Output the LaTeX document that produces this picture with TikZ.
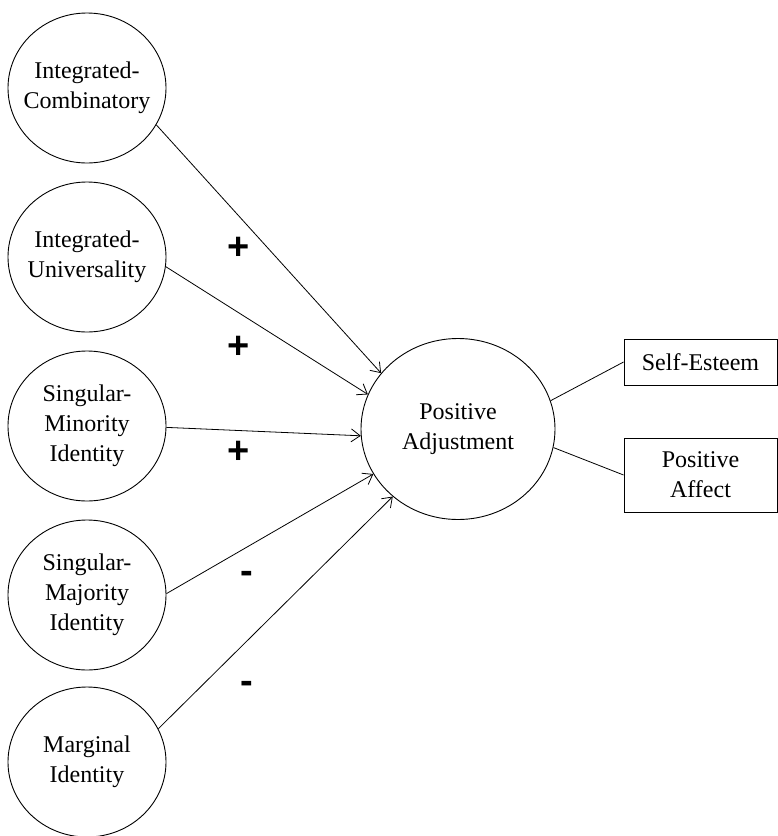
\documentclass[tikz,border=0pt]{standalone}
\usepackage{fontspec}
\setmainfont{Liberation Serif}
\newfontfamily\signfont{Liberation Sans}
\usetikzlibrary{shapes.geometric,arrows.meta}

\tikzset{
  construct/.style={ellipse, draw, line width=0.9pt, inner sep=-30pt,
    minimum width=158pt, minimum height=150pt, align=center,
    font=\fontsize{24}{30}\selectfont},
  latent/.style={ellipse, draw, line width=0.9pt, inner sep=-30pt,
    minimum width=194pt, minimum height=181pt, align=center,
    font=\fontsize{24}{30}\selectfont},
  indicator/.style={rectangle, draw, line width=0.9pt, inner sep=0pt,
    minimum width=153pt, align=center,
    font=\fontsize{24}{30}\selectfont},
  path arrow/.style={line width=0.8pt, -{Straight Barb[length=9pt,width=13pt]}},
  loading/.style={line width=0.8pt},
  sign/.style={font=\signfont\bfseries\fontsize{38}{38}\selectfont, inner sep=0pt}
}

\begin{document}
\begin{tikzpicture}[x=1pt,y=-1pt]
  \useasboundingbox (0,0) rectangle (778,836);
  \fill[white] (0,0) rectangle (778,836);

  % predictors
  \node[construct] (ic) at (87,88)  {Integrated-\\Combinatory};
  \node[construct] (iu) at (87,257) {Integrated-\\Universality};
  \node[construct] (sm) at (87,426) {Singular-\\Minority\\Identity};
  \node[construct] (sj) at (87,595) {Singular-\\Majority\\Identity};
  \node[construct] (mi) at (87,762) {Marginal\\Identity};

  % outcome factor and its indicators
  \node[latent] (pa) at (458,429) {Positive\\Adjustment};
  \node[indicator, minimum height=46pt] (se) at (700.5,362) {Self-Esteem};
  \node[indicator, minimum height=74pt] (af) at (700.5,475) {Positive\\Affect};

  % structural paths
  \draw[path arrow] (ic.-28.5) -- (pa.144.3);
  \draw[path arrow] (iu.-7.8)  -- (pa.159.5);
  \draw[path arrow] (sm.-1)    -- (pa.-176.5);
  \draw[path arrow] (sj.1.4)   -- (pa.-152.7);
  \draw[path arrow] (mi.25)    -- (pa.-134.2);

  % measurement paths
  \draw[loading] (pa.17.1)  -- (se.west);
  \draw[loading] (pa.-11.9) -- (af.west);

  % signs of the effects
  \node[sign] (s1) at (239,248) {+};
  \node[sign] (s2) at (239,347) {+};
  \node[sign] (s3) at (239,452) {+};
  \node[sign] (s4) at (246.5,577) {-};
  \node[sign] (s5) at (246.5,687) {-};
\end{tikzpicture}
\end{document}
